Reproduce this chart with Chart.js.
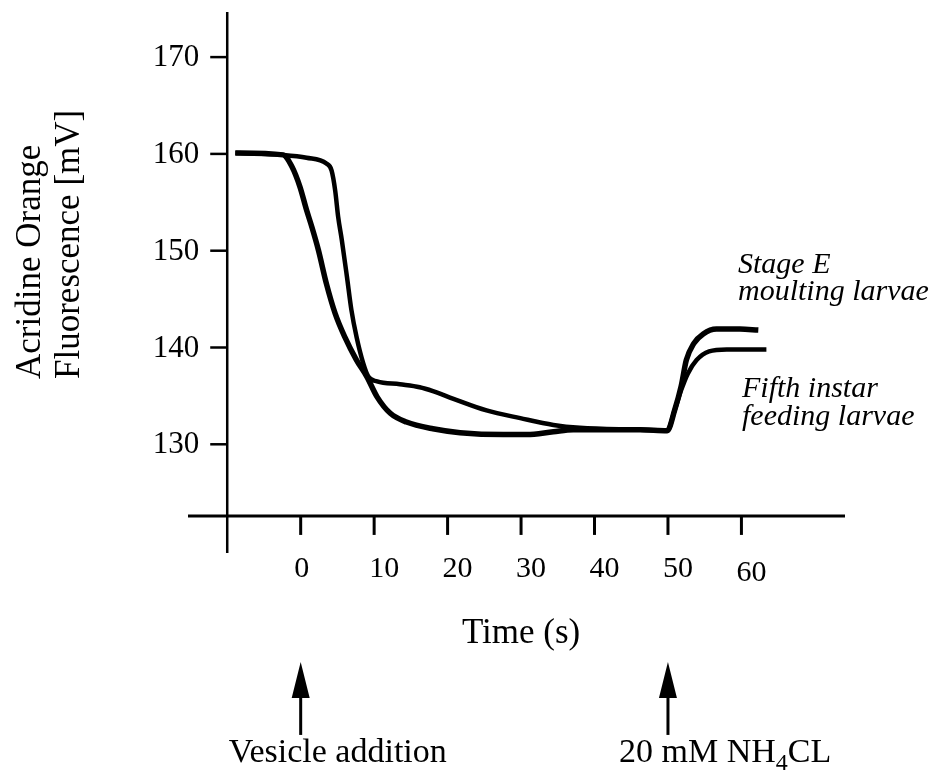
<!DOCTYPE html>
<html>
<head>
<meta charset="utf-8">
<script src="https://cdn.jsdelivr.net/npm/chart.js@4.4.0/dist/chart.umd.min.js"></script>
<style>
  body { margin: 0; background: #fff; }
  canvas { display: block; }
</style>
</head>
<body>
<canvas id="Chart-fluo" width="944" height="772"></canvas>
<script>
/* ---- donnees ---- */
const xTicks = [0, 10, 20, 30, 40, 50, 60]
const yTicks = [130, 140, 150, 160, 170]

// courbe qui tombe tot, finit en haut (stage E moulting larvae)
const timeStageE = [-8.9, -2.4, -1.2, -0.1, 0.8, 1.5, 2.4, 3.5, 4.7, 6.0, 7.6, 9.0, 10.4, 12.2, 14.4, 18.0, 21.7, 27.6, 30.8, 34.4, 37.1, 46.2, 49.9, 50.9, 51.8, 52.5, 53.5, 54.8, 56.6, 59.8, 62.3]
const valStageE  = [160.1, 159.9, 158.7, 156.6, 154.2, 152.5, 150.1, 146.6, 143.5, 141.1, 138.7, 137.0, 134.9, 133.2, 132.3, 131.6, 131.2, 131.0, 131.0, 131.3, 131.5, 131.5, 131.4, 133.5, 136.0, 138.7, 140.4, 141.4, 141.9, 141.9, 141.8]

// courbe qui tombe tard avec le plateau, finit en bas (fifth instar feeding larvae)
const timeFifth = [-8.9, -2.4, 0.8, 3.5, 4.2, 4.7, 5.1, 5.6, 6.3, 6.9, 7.6, 8.5, 9.2, 10.4, 13.5, 16.2, 18.0, 20.8, 25.3, 29.9, 34.4, 38.0, 46.2, 49.9, 50.9, 51.8, 52.7, 53.9, 55.6, 58.0, 63.4]
const valFifth  = [160.1, 159.9, 159.6, 159.0, 158.3, 156.2, 153.5, 151.1, 147.3, 143.9, 141.1, 138.4, 137.0, 136.5, 136.2, 135.9, 135.5, 134.7, 133.5, 132.7, 132.0, 131.7, 131.5, 131.4, 133.5, 135.6, 137.3, 138.7, 139.6, 139.8, 139.8]

// fleches sous l'axe
const eventTimes = [0, 50]
const eventLabels = ['Vesicle addition', '20 mM NH4CL']

// ou les axes se croisent
const axisCrossTime = -10
const axisCrossValue = 122.6

const serif = '"Liberation Serif", "Times New Roman", serif'

function toPoints(xs, ys) {
  return xs.map((x, i) => ({ x: x, y: ys[i] }))
}

/* ---- axes, textes et fleches ---- */
const axesPlugin = {
  id: 'axesPlugin',
  beforeDatasetsDraw(chart) {
    const c = chart.ctx
    const xs = chart.scales.x
    const ys = chart.scales.y
    const area = chart.chartArea
    const x0 = xs.getPixelForValue(axisCrossTime)
    const y0 = ys.getPixelForValue(axisCrossValue)
    c.save()
    c.strokeStyle = '#000'
    c.lineWidth = 2.5
    c.beginPath(); c.moveTo(x0, area.top); c.lineTo(x0, area.bottom); c.stroke()
    c.lineWidth = 3
    c.beginPath(); c.moveTo(area.left, y0); c.lineTo(area.right, y0); c.stroke()
    yTicks.forEach(v => {
      const py = ys.getPixelForValue(v)
      c.lineWidth = 2.5
      c.beginPath(); c.moveTo(x0 - 17, py); c.lineTo(x0, py); c.stroke()
    })
    xTicks.forEach(t => {
      const px = xs.getPixelForValue(t)
      c.lineWidth = 3
      c.beginPath(); c.moveTo(px, y0); c.lineTo(px, y0 + 19); c.stroke()
    })
    c.restore()
  },
  afterDraw(chart) {
    const c = chart.ctx
    const xs = chart.scales.x
    const ys = chart.scales.y
    const x0 = xs.getPixelForValue(axisCrossTime)
    const y0 = ys.getPixelForValue(axisCrossValue)
    c.save()
    c.fillStyle = '#000'
    c.strokeStyle = '#000'

    // labels des ticks
    c.font = '31px ' + serif
    c.textAlign = 'right'
    c.textBaseline = 'middle'
    yTicks.forEach(v => c.fillText(String(v), x0 - 28, ys.getPixelForValue(v) + 1))
    c.font = '30px ' + serif
    c.textAlign = 'center'
    // sur la figure les nombres a deux chiffres sont un peu decales a droite, le 60 un peu plus bas
    xTicks.forEach(t => c.fillText(String(t), xs.getPixelForValue(t) + (t === 0 ? 1 : 10), y0 + (t === 60 ? 57 : 53)))

    // titre axe x
    c.font = '35px ' + serif
    c.textBaseline = 'alphabetic'
    c.fillText('Time (s)', xs.getPixelForValue(30), y0 + 127)

    // titre axe y (deux lignes, tourne)
    c.save()
    c.translate(0, 379)
    c.rotate(-Math.PI / 2)
    c.textAlign = 'left'
    c.fillText('Acridine Orange', 0, 40)
    c.fillText('Fluorescence [mV]', 0, 79)
    c.restore()

    // textes des courbes
    c.font = 'italic 30px ' + serif
    c.textAlign = 'left'
    c.fillText('Stage E', 738, 273)
    c.fillText('moulting larvae', 738, 300)
    c.fillText('Fifth instar', 742, 397)
    c.fillText('feeding larvae', 742, 425)

    // fleches
    eventTimes.forEach(t => {
      const px = xs.getPixelForValue(t)
      c.lineWidth = 3
      c.beginPath(); c.moveTo(px, y0 + 170); c.lineTo(px, y0 + 219); c.stroke()
      c.beginPath()
      c.moveTo(px, y0 + 146)
      c.lineTo(px - 9, y0 + 182)
      c.lineTo(px + 9, y0 + 182)
      c.closePath()
      c.fill()
    })

    // labels des fleches
    c.font = '34px ' + serif
    c.textAlign = 'left'
    const base = y0 + 246
    const vx = xs.getPixelForValue(eventTimes[0]) - 72
    c.fillText(eventLabels[0], vx, base)
    // NH4CL avec le 4 en indice
    let nx = xs.getPixelForValue(eventTimes[1]) - 49
    const parts = eventLabels[1].split('4')
    c.fillText(parts[0], nx, base)
    nx += c.measureText(parts[0]).width
    c.font = '24px ' + serif
    c.fillText('4', nx, base + 8)
    nx += c.measureText('4').width
    c.font = '34px ' + serif
    c.fillText(parts[1], nx, base)
    c.restore()
  }
}

/* ---- chart ---- */
const ctx = document.getElementById('Chart-fluo')

new Chart(ctx, {
  type: 'scatter',
  data: {
    datasets: [{
      label: 'Stage E moulting larvae',
      data: toPoints(timeStageE, valStageE),
      showLine: true,
      borderColor: '#000',
      borderWidth: 5.5,
      pointRadius: 0,
      cubicInterpolationMode: 'monotone'
    }, {
      label: 'Fifth instar feeding larvae',
      data: toPoints(timeFifth, valFifth),
      showLine: true,
      borderColor: '#000',
      borderWidth: 4.5,
      pointRadius: 0,
      cubicInterpolationMode: 'monotone'
    }]
  },
  options: {
    responsive: false,
    animation: false,
    layout: { padding: { left: 188, right: 99, top: 12, bottom: 219 } },
    plugins: { legend: { display: false }, tooltip: { enabled: false } },
    scales: {
      x: { type: 'linear', min: -15.34, max: 74.1, display: false },
      y: { type: 'linear', min: 118.77, max: 174.66, display: false }
    }
  },
  plugins: [axesPlugin]
})
</script>
</body>
</html>
